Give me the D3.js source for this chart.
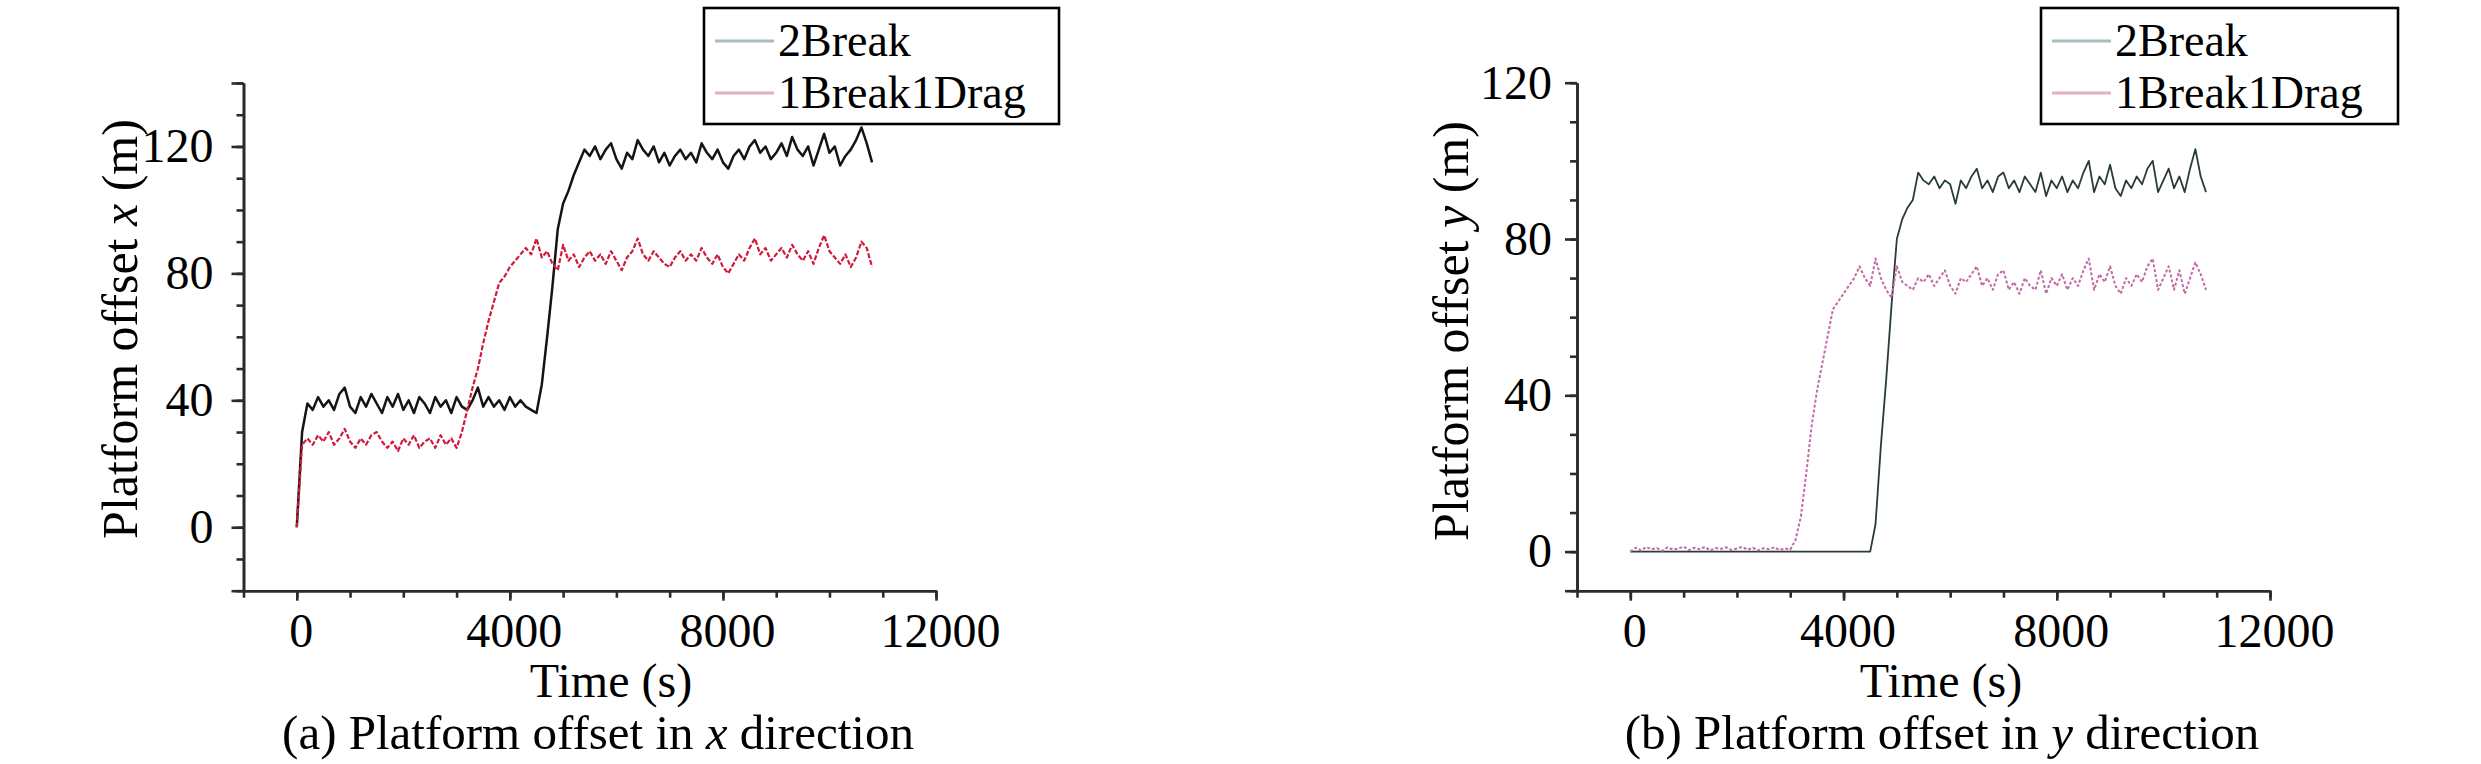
<!DOCTYPE html>
<html>
<head>
<meta charset="utf-8">
<script src="https://cdn.jsdelivr.net/npm/d3@7"></script>
<style>
  body { margin: 0; background: #fff; }
  svg { display: block; }
</style>
</head>
<body>
<div id="viz"></div>
<script>
// sampling times (s)
var timeS = [0,100,200,300,400,500,600,700,800,900,
  1000,1100,1200,1300,1400,1500,1600,1700,1800,1900,
  2000,2100,2200,2300,2400,2500,2600,2700,2800,2900,
  3000,3100,3200,3300,3400,3500,3600,3700,3800,3900,
  4000,4100,4200,4300,4400,4500,4600,4700,4800,4900,
  5000,5100,5200,5300,5400,5500,5600,5700,5800,5900,
  6000,6100,6200,6300,6400,6500,6600,6700,6800,6900,
  7000,7100,7200,7300,7400,7500,7600,7700,7800,7900,
  8000,8100,8200,8300,8400,8500,8600,8700,8800,8900,
  9000,9100,9200,9300,9400,9500,9600,9700,9800,9900,
  10000,10100,10200,10300,10400,10500,10600,10700,10800];

var seriesNames = ['2Break', '1Break1Drag'];
var xTickLabels = [0, 4000, 8000, 12000];
var yTickLabels = [0, 40, 80, 120];

// (a) offset in x direction (m)
var offX2Break = [0,30,39,37,41,38,40,37,42,44,
  38,36,41,38,42,39,36,41,38,42,
  37,40,36,41,39,36,41,38,40,36,
  41,38,37,40,44,38,41,38,40,37,
  41,38,40,38,37,36,45,60,76,94,
  102,106,111,115,119,117,120,116,119,121,
  116,113,118,116,122,119,117,120,115,118,
  114,117,119,116,118,115,121,118,116,119,
  115,113,117,119,116,120,122,118,120,116,
  118,121,117,123,119,117,120,114,119,124,
  118,120,114,117,119,122,126,121,115];
var offX1Break1Drag = [0,26,28,26,29,27,30,26,28,31,
  27,25,28,26,29,30,27,25,27,24,
  28,26,29,25,27,28,25,29,26,28,
  25,30,37,44,50,58,65,71,77,79,
  82,84,86,88,86,91,85,87,83,81,
  89,84,86,82,85,87,84,86,83,87,
  84,81,85,87,91,86,84,87,85,83,
  82,85,87,84,86,84,88,85,83,86,
  82,80,83,86,84,88,91,86,88,84,
  86,88,85,89,86,84,87,83,88,92,
  87,85,83,86,82,85,90,88,82];

// (b) offset in y direction (m)
var offY2Break = [0,0,0,0,0,0,0,0,0,0,
  0,0,0,0,0,0,0,0,0,0,
  0,0,0,0,0,0,0,0,0,0,
  0,0,0,0,0,0,0,0,0,0,
  0,0,0,0,0,0,7,27,44,63,
  80,85,88,90,97,95,94,96,93,95,
  94,89,95,93,96,98,93,95,92,96,
  97,93,95,92,96,94,92,97,91,95,
  93,96,92,95,93,97,100,92,96,94,
  99,93,91,95,93,96,94,98,100,92,
  95,98,93,96,92,98,103,96,92];
var offY1Break1Drag = [0,1,0.3,1.2,0.6,0.9,0.2,1.1,0.5,0.8,
  1.3,0.4,1,0.6,1.2,0.3,0.9,0.7,1.1,0.4,
  0.8,1.2,0.5,1,0.3,0.9,0.6,1.1,0.4,0.8,
  0.5,3,9,20,32,41,48,55,62,64,
  66,68,70,73,70,68,75,70,67,65,
  73,69,68,67,70,69,71,68,70,72,
  68,66,70,69,71,73,68,70,67,71,
  72,67,69,66,70,68,67,72,66,70,
  68,71,67,70,68,72,75,67,71,69,
  73,68,66,70,68,71,69,73,75,67,
  70,73,67,72,66,70,74,71,67];

var W = 2481, H = 764;
var font = "'Liberation Serif', 'Times New Roman', serif";

var svg = d3.select('#viz').append('svg')
  .attr('width', W)
  .attr('height', H)
  .style('background', '#fff');

var panels = [
  { x0: 243.5, x1: 936, yDom: [-20, 140], yTop: 83, pad: 18,
    tag: '(a)', dir: 'x', labelX: 137, labelY: 329,
    titleX: 611, subX: 598,
    legend: { x: 704, y: 8, w: 355, h: 116 },
    data: [offX2Break, offX1Break1Drag],
    colors: ['#141414', '#d01c3c'], widths: [2.5, 2.2], dash: [null, '5,2'] },
  { x0: 1577, x1: 2270, yDom: [-10, 120], yTop: 82.7, pad: 13,
    tag: '(b)', dir: 'y', labelX: 1468, labelY: 331,
    titleX: 1941, subX: 1942,
    legend: { x: 2041, y: 8, w: 357, h: 116 },
    data: [offY2Break, offY1Break1Drag],
    colors: ['#2a3b3b', '#c46aa6'], widths: [1.8, 2], dash: [null, '3,2'] }
];
var legendColors = ['#a9bcc0', '#e2b0c3'];

var axisY0 = 590.7;

panels.forEach(function(p) {
  var x = d3.scaleLinear().domain([-1000, 12000]).range([p.x0, p.x1]);
  var y = d3.scaleLinear().domain(p.yDom).range([axisY0, p.yTop]);
  var g = svg.append('g');

  // minor ticks
  g.append('g')
    .attr('transform', 'translate(' + p.x0 + ',0)')
    .call(d3.axisLeft(y).tickValues(d3.range(p.yDom[0], p.yDom[1] + 1, 10))
      .tickSize(7).tickSizeOuter(0).tickFormat(''));
  g.append('g')
    .attr('transform', 'translate(0,' + axisY0 + ')')
    .call(d3.axisBottom(x).tickValues(d3.range(-1000, 12001, 1000))
      .tickSize(7).tickSizeOuter(0).tickFormat(''));

  // major ticks + labels
  var yMajor = [p.yDom[0]].concat(yTickLabels).concat(p.yDom[1] > 120 ? [p.yDom[1]] : []);
  g.append('g')
    .attr('transform', 'translate(' + p.x0 + ',0)')
    .call(d3.axisLeft(y).tickValues(yMajor).tickSize(12).tickSizeOuter(0)
      .tickPadding(p.pad)
      .tickFormat(function(d) { return yTickLabels.indexOf(d) >= 0 ? d : ''; }));
  var xAx = g.append('g')
    .attr('transform', 'translate(0,' + axisY0 + ')')
    .call(d3.axisBottom(x).tickValues(xTickLabels).tickSize(10).tickSizeOuter(0)
      .tickPadding(12).tickFormat(d3.format('d')));

  g.selectAll('.domain, .tick line')
    .attr('stroke', '#2b2b2b')
    .attr('stroke-width', 2.6);
  g.selectAll('.tick text')
    .attr('font-family', font)
    .attr('font-size', 48)
    .attr('fill', '#000');
  xAx.selectAll('.tick text').attr('dx', 4);

  // series
  var line = d3.line()
    .x(function(d, i) { return x(timeS[i]); })
    .y(function(d) { return y(d); });

  p.data.forEach(function(s, k) {
    g.append('path')
      .datum(s)
      .attr('d', line)
      .attr('fill', 'none')
      .attr('stroke', p.colors[k])
      .attr('stroke-width', p.widths[k])
      .attr('stroke-linejoin', 'round')
      .attr('stroke-dasharray', p.dash[k]);
  });

  // y label
  var yl = g.append('text')
    .attr('transform', 'translate(' + p.labelX + ',' + p.labelY + ') rotate(-90)')
    .attr('text-anchor', 'middle')
    .attr('font-family', font)
    .attr('font-size', 50);
  yl.append('tspan').text('Platform offset ');
  yl.append('tspan').attr('font-style', 'italic').text(p.dir);
  yl.append('tspan').text(' (m)');

  // x label
  g.append('text')
    .attr('x', p.titleX).attr('y', 697)
    .attr('text-anchor', 'middle')
    .attr('font-family', font)
    .attr('font-size', 48)
    .text('Time (s)');

  // subtitle
  var st = g.append('text')
    .attr('x', p.subX).attr('y', 749)
    .attr('text-anchor', 'middle')
    .attr('font-family', font)
    .attr('font-size', 49);
  st.append('tspan').text(p.tag + ' Platform offset in ');
  st.append('tspan').attr('font-style', 'italic').text(p.dir);
  st.append('tspan').text(' direction');

  // legend
  var L = p.legend;
  var lg = g.append('g');
  lg.append('rect')
    .attr('x', L.x).attr('y', L.y)
    .attr('width', L.w).attr('height', L.h)
    .attr('fill', '#fff')
    .attr('stroke', '#000')
    .attr('stroke-width', 2.6);
  seriesNames.forEach(function(name, k) {
    var cy = L.y + 33 + k * 52;
    lg.append('line')
      .attr('x1', L.x + 11).attr('x2', L.x + 70)
      .attr('y1', cy).attr('y2', cy)
      .attr('stroke', legendColors[k])
      .attr('stroke-width', 3);
    lg.append('text')
      .attr('x', L.x + 74).attr('y', cy + 15)
      .attr('font-family', font)
      .attr('font-size', 46)
      .text(name);
  });
});
</script>
</body>
</html>
